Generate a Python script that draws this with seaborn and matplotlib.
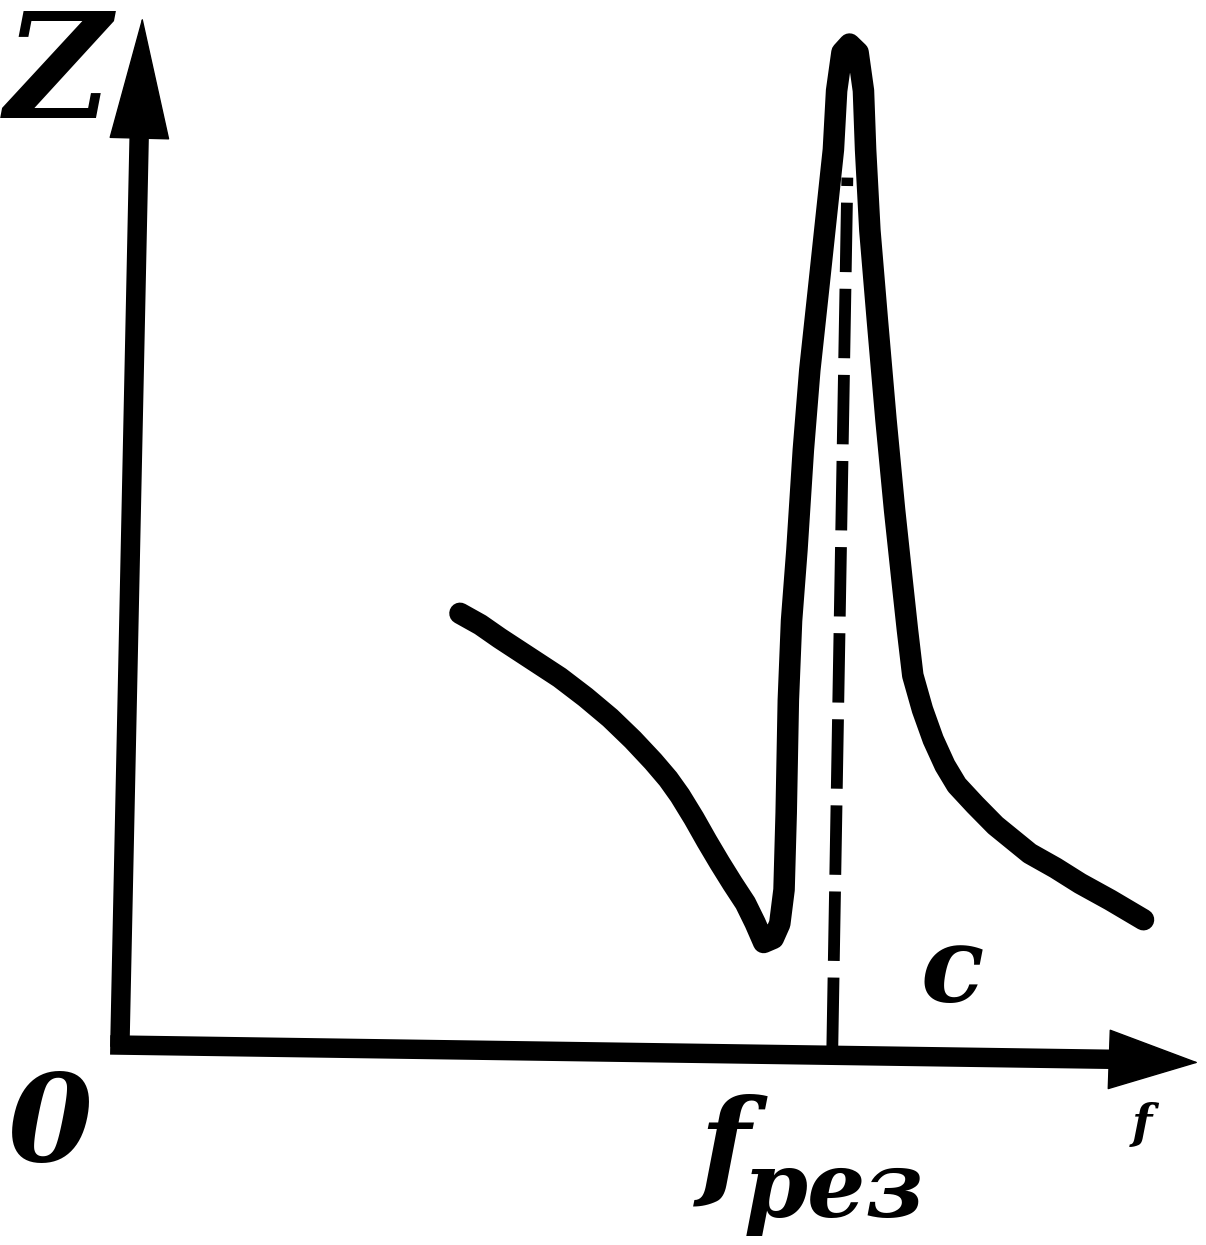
import numpy as np
import pandas as pd
import matplotlib
matplotlib.use("Agg")
import matplotlib.pyplot as plt
import seaborn as sns

# impedance curve Z(f) (f and Z in axis fractions)
freq = [0.315, 0.334, 0.352, 0.380, 0.408, 0.432, 0.455, 0.476, 0.495, 0.509,
        0.520, 0.533, 0.545, 0.557, 0.569, 0.581, 0.590, 0.598, 0.607, 0.613,
        0.617, 0.619, 0.621, 0.624, 0.629, 0.635, 0.641, 0.649, 0.656, 0.663,
        0.666, 0.671, 0.678, 0.686, 0.691, 0.693, 0.697, 0.704, 0.712, 0.720,
        0.727, 0.732, 0.737, 0.746, 0.756, 0.767, 0.778, 0.795, 0.814, 0.846,
        0.870, 0.893, 0.921, 0.952]
impedance = [0.419, 0.408, 0.395, 0.376, 0.357, 0.338, 0.318, 0.297, 0.276, 0.259,
             0.243, 0.221, 0.199, 0.178, 0.158, 0.139, 0.120, 0.101, 0.105, 0.119,
             0.152, 0.226, 0.335, 0.412, 0.480, 0.577, 0.654, 0.731, 0.799, 0.867,
             0.924, 0.961, 0.969, 0.961, 0.924, 0.867, 0.789, 0.702, 0.606, 0.519,
             0.451, 0.403, 0.359, 0.326, 0.297, 0.272, 0.253, 0.234, 0.214, 0.187,
             0.173, 0.158, 0.142, 0.123]

# resonance marker (dashed line), slightly tilted like the scan
res_f = [0.662, 0.676]
res_z = [0.0, 0.84]

sns.set_style("white")
plt.rcParams['lines.scale_dashes'] = False

df = pd.DataFrame({'f': freq, 'Z': impedance})

fig = plt.figure(figsize=(12.06, 12.45), dpi=100)
ax = fig.add_axes([122 / 1206, 198 / 1245, 1073 / 1206, 1035 / 1245])
ax.set_xlim(0, 1)
ax.set_ylim(0, 1)
ax.axis('off')

sns.lineplot(data=df, x='f', y='Z', sort=False, estimator=None, color='black',
             linewidth=15.5, solid_capstyle='round', solid_joinstyle='round', ax=ax)

# dashed resonance line
ax.plot(res_f, res_z, color='black', linewidth=8.5, dashes=(50, 12), clip_on=False)

# axes with arrow heads
ax.plot([-0.002, 0.016], [0.0, 0.88], color='black', linewidth=14, clip_on=False,
        solid_capstyle='butt')
ax.annotate('', xy=(0.019, 0.995), xytext=(0.016, 0.87), xycoords='data',
            arrowprops=dict(arrowstyle='-|>,head_length=1.7,head_width=0.42',
                            mutation_scale=50, color='black', lw=1, shrinkA=0, shrinkB=0),
            annotation_clip=False)
ax.plot([-0.011, 0.93], [0.002, -0.012], color='black', linewidth=14, clip_on=False,
        solid_capstyle='butt')
ax.annotate('', xy=(1.003, -0.015), xytext=(0.92, -0.012), xycoords='data',
            arrowprops=dict(arrowstyle='-|>,head_length=1.25,head_width=0.42',
                            mutation_scale=50, color='black', lw=1, shrinkA=0, shrinkB=0),
            annotation_clip=False)

# labels
font = dict(family='DejaVu Serif', weight='bold', style='italic', color='black')
ax.text(-0.060, 0.936, 'Z', fontsize=105, ha='center', va='center', **font)
ax.text(-0.067, -0.078, '0', fontsize=88, ha='center', va='center', **font)
ax.text(0.562, -0.100, 'f', fontsize=85, ha='center', va='center', **font)
ax.text(0.664, -0.140, 'рез', fontsize=66, ha='center', va='center', **font)
ax.text(0.774, 0.072, 'c', fontsize=75, ha='center', va='center', **font)
ax.text(0.951, -0.075, 'f', fontsize=34, ha='center', va='center', **font)

fig.savefig('out.png', dpi=100, facecolor='white')
